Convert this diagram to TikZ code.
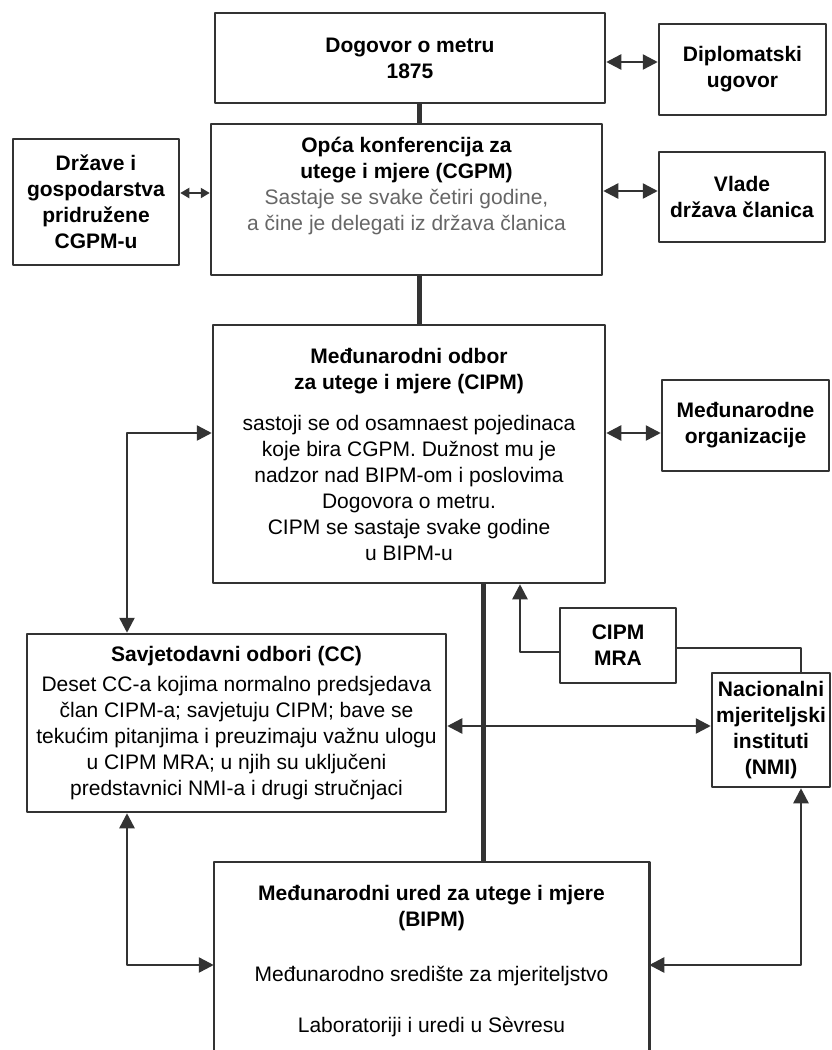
\documentclass[tikz,border=0pt]{standalone}
\usepackage{fontspec}
\setmainfont{Liberation Sans}
\usetikzlibrary{arrows.meta}

\begin{document}
\begin{tikzpicture}[x=1pt,y=-1pt,line join=round,
    >={Triangle[length=15pt,width=15pt]},
    box/.style={draw=black!80,line width=2.5pt,align=center,inner sep=0pt,
      font=\fontsize{21}{26}\selectfont},
    con/.style={draw=black!80,line width=2.5pt},
    trunk/.style={draw=black!80,line width=5pt}]
    \useasboundingbox (0,0) rectangle (831,1050);
    \node[box,minimum width=390pt,minimum height=90pt] (dog) at (410,58)
      {\textbf{Dogovor o metru}\\\textbf{1875}};
    \node[box,minimum width=167pt,minimum height=91pt] (dipl) at (742.5,69.5)
      {\textbf{Diplomatski}\\\textbf{ugovor}};
    \node[box,minimum width=391pt,minimum height=151pt] (cgpm) at (406.5,199.5)
      {\textbf{Opća konferencija za}\\\textbf{utege i mjere (CGPM)}\\
       \textcolor{black!60}{Sastaje se svake četiri godine,}\\
       \textcolor{black!60}{a čine je delegati iz država članica}\\[6pt]};
    \node[box,minimum width=166pt,minimum height=126pt] (drz) at (96,202)
      {\textbf{Države i}\\\textbf{gospodarstva}\\\textbf{pridružene}\\\textbf{CGPM-u}};
    \node[box,minimum width=166pt,minimum height=90pt] (vlade) at (742,197)
      {\textbf{Vlade}\\\textbf{država članica}};
    \node[box,minimum width=392pt,minimum height=258pt] (cipm) at (409,454)
      {\textbf{Međunarodni odbor}\\\textbf{za utege i mjere (CIPM)}\\[15pt]
       sastoji se od osamnaest pojedinaca\\koje bira CGPM. Dužnost mu je\\
       nadzor nad BIPM-om i poslovima\\Dogovora o metru.\\
       CIPM se sastaje svake godine\\u BIPM-u};
    \node[box,minimum width=167pt,minimum height=91pt] (mo) at (745.5,425.5)
      {\textbf{Međunarodne}\\\textbf{organizacije}};
    \node[box,minimum width=116pt,minimum height=75pt] (mra) at (618,645.5)
      {\textbf{CIPM}\\\textbf{MRA}};
    \node[box,minimum width=118pt,minimum height=114pt] (nmi) at (771,730)
      {\textbf{Nacionalni}\\\textbf{mjeriteljski}\\\textbf{instituti}\\\textbf{(NMI)}};
    \node[box,minimum width=419pt,minimum height=178pt] (cc) at (236.5,723)
      {\textbf{Savjetodavni odbori (CC)}\\[4pt]
       Deset CC-a kojima normalno predsjedava\\član CIPM-a; savjetuju CIPM; bave se\\
       tekućim pitanjima i preuzimaju važnu ulogu\\u CIPM MRA; u njih su uključeni\\
       predstavnici NMI-a i drugi stručnjaci};
    \node[box,draw=none,minimum width=433pt,minimum height=196pt] (bipm) at (431.5,961)
      {\textbf{Međunarodni ured za utege i mjere}\\\textbf{(BIPM)}\\[29pt]
       Međunarodno središte za mjeriteljstvo\\[25pt]Laboratoriji i uredi u Sèvresu};
    \draw[con] (bipm.south west) |- (bipm.north east) -- (bipm.south east);
    \foreach \a/\b/\x in {dog/cgpm/419,cgpm/cipm/419,cipm/bipm/483}
      \draw[trunk] (\a.south -| \x,0) -- (\b.north -| \x,0);
    \foreach \a/\b/\y in {dog/dipl/62,cgpm/vlade/191,cipm/mo/433,cc/nmi/726}
      \draw[con,<->] (\a.east |- 0,\y) -- (\b.west |- 0,\y);
    \draw[con,line width=2pt,{Triangle[length=9pt,width=10pt]}-{Triangle[length=9pt,width=10pt]}]
      (drz.east |- 0,193) -- (cgpm.west |- 0,193);
    \draw[con,<->] (cipm.west |- 0,433) -| (cc.north -| 127,0);
    \draw[con,<->] (cc.south -| 127,0) |- (bipm.west |- 0,965);
    \draw[con,<->] (nmi.south -| 801,0) |- (bipm.east |- 0,965);
    \draw[con,->] (mra.west |- 0,652) -| (cipm.south -| 520,0);
    \draw[con] (mra.east |- 0,648) -| (nmi.north -| 801,0);
\end{tikzpicture}
\end{document}
